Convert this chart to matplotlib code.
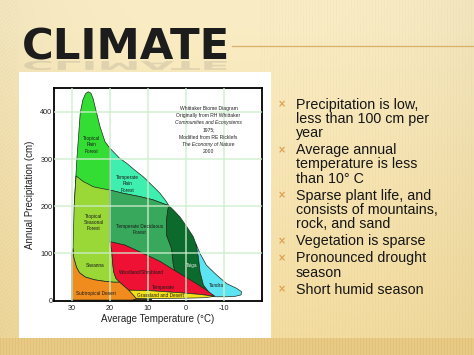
import numpy as np
import matplotlib
matplotlib.use("Agg")
import matplotlib.pyplot as plt
from matplotlib.patches import Polygon, Rectangle, PathPatch
from matplotlib.textpath import TextPath
from matplotlib.font_manager import FontProperties
from matplotlib.transforms import Affine2D

W, H = 474, 355

# ---- biome outlines, (temperature degC, precipitation cm) ----
RAIN_FOREST = [(29.4, 200), (28.7, 298), (27.8, 398), (27.1, 426), (26.4, 439),
               (25.7, 443), (25.0, 440), (24.4, 428), (23.9, 411), (22.6, 369),
               (21.3, 337), (20.0, 323), (20.0, 200)]
TEMP_RAIN = [(20.0, 323), (17.5, 302), (15.6, 291), (13.4, 276), (11.2, 262),
             (8.8, 243), (6.8, 227), (5.2, 210), (4.5, 201), (6.0, 205),
             (8.6, 213), (12.1, 220), (16.5, 227), (20.0, 234)]
DECIDUOUS = [(20.0, 234), (16.5, 227), (12.1, 220), (8.6, 213), (6.0, 205),
             (4.5, 201), (4.8, 190), (5.1, 170), (5.1, 138), (3.8, 110),
             (3.3, 74), (2.9, 62), (6.8, 82), (11.2, 99), (16.1, 117), (20.0, 124)]
TAIGA = [(4.5, 201), (3.0, 189), (1.6, 177), (-0.3, 155), (-1.9, 135),
         (-2.6, 120), (-3.3, 90), (-3.7, 60), (-4.6, 32), (-6.3, 14), (-7.6, 8),
         (-5.4, 21), (-1.9, 39), (2.4, 60), (2.9, 62), (3.3, 74), (3.8, 110),
         (5.1, 138), (5.1, 170), (4.8, 190)]
TUNDRA = [(-2.6, 120), (-3.7, 99), (-5.4, 74), (-8.1, 53), (-10.7, 35),
          (-13.3, 25), (-14.6, 18), (-14.5, 11), (-13.0, 8), (-10.7, 7),
          (-7.6, 7), (-6.3, 14), (-4.6, 32), (-3.7, 60), (-3.3, 90)]
SAVANNA = [(29.7, 110), (29.4, 200), (28.9, 264), (27.0, 252), (25.5, 246),
           (24.4, 241), (22.0, 237), (20.0, 234), (20.0, 124), (19.5, 105),
           (19.3, 80), (19.0, 60), (18.4, 46), (17.4, 38), (19.0, 38),
           (21.5, 40), (24.0, 43), (26.5, 49), (28.0, 58), (28.8, 70), (29.5, 90)]
DESERT = [(30.0, 0), (30.0, 100), (29.7, 110), (29.5, 90), (28.8, 70),
          (28.0, 58), (26.5, 49), (24.0, 43), (21.5, 40), (19.0, 38),
          (17.4, 38), (15.0, 21), (13.0, 3), (13.0, 0)]
SHRUBLAND = [(20.0, 124), (16.1, 117), (11.2, 99), (6.8, 82), (2.4, 60),
             (-1.9, 39), (-5.4, 21), (-7.6, 8), (-3.7, 12), (2.4, 16),
             (9.5, 20), (15.0, 21), (17.4, 38), (18.4, 46), (19.0, 60),
             (19.3, 80), (19.5, 105)]
GRASSLAND = [(15.0, 21), (9.5, 20), (2.4, 16), (-3.7, 12), (-7.6, 8),
             (-5.0, 5), (0.0, 4), (8.0, 3.5), (13.0, 3)]
BROWN = [(14.0, 0), (13.0, 3), (9.0, 1.5), (9.0, 0)]

BIOMES = [(RAIN_FOREST, "#33dd33"), (TEMP_RAIN, "#3eefb0"), (SAVANNA, "#9ad838"),
          (DECIDUOUS, "#38a85c"), (TAIGA, "#0b6a2c"), (TUNDRA, "#5ce4f2"),
          (DESERT, "#f08c1e"), (SHRUBLAND, "#ee1133"), (GRASSLAND, "#f5e11a"),
          (BROWN, "#7a4a20")]

BIOME_LABELS = [("Tropical\nRain\nForest", 24.8, 330),
                ("Temperate\nRain\nForest", 15.4, 247),
                ("Tropical\nSeasonal\nForest", 24.2, 165),
                ("Temperate Deciduous\nForest", 12.3, 150),
                ("Savanna", 24.0, 73),
                ("Woodland/Shrubland", 11.7, 58),
                ("Taiga", -1.6, 73),
                ("Tundra", -8.1, 30),
                ("Subtropical Desert", 23.7, 15),
                ("Temperate", 6.0, 27),
                ("Grassland and Desert", 6.8, 10)]
LIGHT_LABELS = ["Taiga"]

NOTE_LINES = ["Whittaker Biome Diagram", "Originally from RH Whittaker",
              "Communities and Ecosystems", "1975;", "Modified from RE Ricklefs",
              "The Economy of Nature", "2000"]
NOTE_ITALIC = [False, False, True, False, False, True, False]

X_TICKS = [30, 20, 10, 0, -10]
Y_TICKS = [0, 100, 200, 300, 400]

TITLE = "CLIMATE"
BULLETS = [["Precipitation is low,", "less than 100 cm per", "year"],
           ["Average annual", "temperature is less", "than 10\u00b0 C"],
           ["Sparse plant life, and", "consists of mountains,", "rock, and sand"],
           ["Vegetation is sparse"],
           ["Pronounced drought", "season"],
           ["Short humid season"]]

fig = plt.figure(figsize=(W / 100, H / 100), dpi=100)

# ---- slide background ----
bg = fig.add_axes([0, 0, 1, 1])
bg.set_xlim(0, W); bg.set_ylim(H, 0); bg.axis("off")
yy, xx = np.mgrid[0:H, 0:W]
top = np.array([250, 237, 198]) / 255
bot = np.array([244, 220, 158]) / 255
t = (yy / H)[..., None]
img = top * (1 - t) + bot * t
edge = (np.abs(xx - W / 2) / (W / 2))[..., None] ** 3
img = img - 0.03 * edge
stripes = (0.014 * ((xx % 3) == 0))[..., None]
img = img - stripes * (xx > 260)[..., None]
diag = (0.02 * (((xx + yy) % 4) == 0))[..., None]
img = img - diag * (xx < 19)[..., None]
band = (yy >= 338)[..., None]
img = np.where(band, np.array([232, 202, 132]) / 255 - stripes * 2, img)
bg.imshow(np.clip(img, 0, 1), extent=(0, W, H, 0), aspect="auto", zorder=0)

bg.add_patch(Rectangle((19, 72), 252, 266, facecolor="white", edgecolor="none", zorder=1))
bg.plot([232, W], [45.5, 45.5], color="#d8b06a", lw=0.9, zorder=1)

bg.text(22, 60, TITLE, fontsize=31.2, fontweight="bold", family="DejaVu Sans",
        color="#1c1c1c", ha="left", va="baseline", zorder=3)
tp = TextPath((0, 0), TITLE, size=43.3, prop=FontProperties(family="DejaVu Sans", weight="bold"))
refl = PathPatch(tp, transform=Affine2D().scale(1, 0.28).translate(22, 61) + bg.transData,
                 facecolor="#666666", edgecolor="none", alpha=0.16, zorder=0.5)
bg.add_patch(refl)

base = 108.5
for lines in BULLETS:
    bg.text(282, base - 4, "\u00d7", fontsize=7, color="#dca050", fontweight="bold",
            ha="center", va="center", zorder=3)
    for ln in lines:
        bg.text(296, base, ln, fontsize=10.3, family="Liberation Sans", color="#151515",
                ha="left", va="baseline", zorder=3)
        base += 14.3
    base += 2.7

# ---- Whittaker diagram ----
ax = fig.add_axes([54 / W, 1 - 301 / H, 208 / W, 213 / H], zorder=2)
ax.set_xlim(34.7, -20)
ax.set_ylim(-2, 451)
for poly, col in BIOMES:
    ax.add_patch(Polygon(poly, closed=True, facecolor=col, edgecolor="#1d2d1d",
                         lw=0.5, zorder=2))
for x in X_TICKS:
    ax.axvline(x, color="#cdeecd", lw=1.1, alpha=0.85, zorder=3)
for y in Y_TICKS[1:]:
    ax.axhline(y, color="#cdeecd", lw=1.1, alpha=0.85, zorder=3)

for txt, x, y in BIOME_LABELS:
    ax.text(x, y, txt, fontsize=3.4, family="Liberation Sans",
            color="#f0f0f0" if txt in LIGHT_LABELS else "#1a1a1a",
            ha="center", va="center", linespacing=1.35, zorder=4)
for i, (ln, it) in enumerate(zip(NOTE_LINES, NOTE_ITALIC)):
    ax.text(-5.9, 408 - 15.5 * i, ln, fontsize=3.6, family="Liberation Sans",
            style="italic" if it else "normal", color="#222222",
            ha="center", va="center", zorder=4)

ax.set_xticks(X_TICKS)
ax.set_xticklabels([str(v) for v in X_TICKS])
ax.set_yticks(Y_TICKS)
ax.tick_params(length=0, labelsize=5.2, colors="#222222")
ax.tick_params(axis="x", pad=3)
ax.tick_params(axis="y", pad=1.2)
for lab in ax.get_xticklabels() + ax.get_yticklabels():
    lab.set_family("Liberation Sans")
for s in ax.spines.values():
    s.set_linewidth(1.3)
    s.set_color("black")
ax.set_xlabel("Average Temperature (\u00b0C)", fontsize=7, family="Liberation Sans",
              labelpad=1, color="#222222")
ax.set_ylabel("Annual Precipitation (cm)", fontsize=7, family="Liberation Sans",
              labelpad=4, color="#222222")

fig.savefig("out.png", dpi=100)
